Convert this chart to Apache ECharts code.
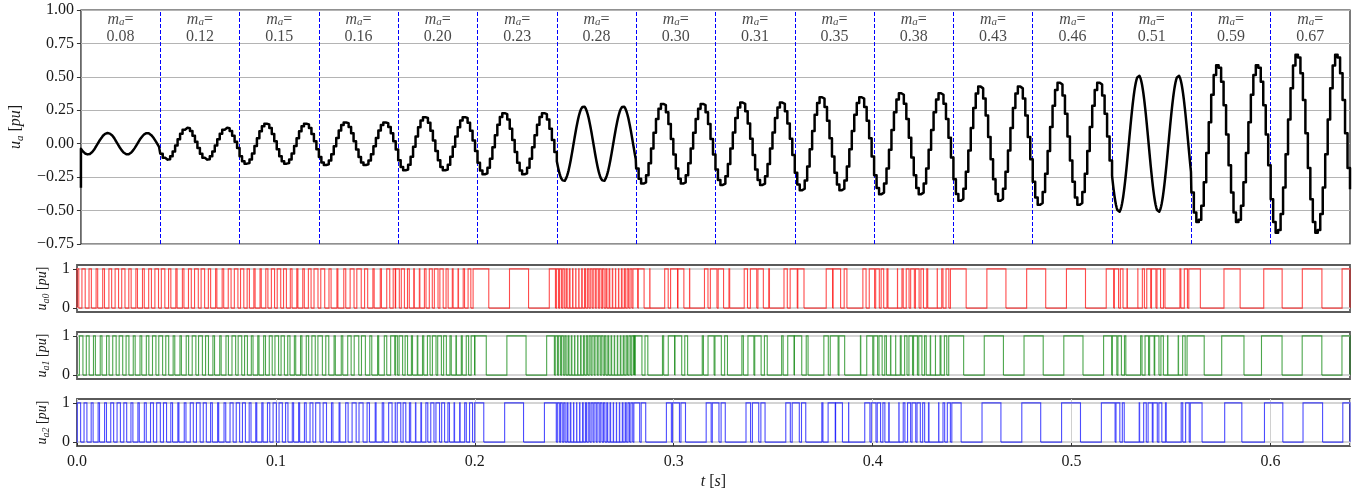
<!DOCTYPE html>
<html>
<head>
<meta charset="utf-8">
<script src="https://cdn.jsdelivr.net/npm/echarts@6/dist/echarts.min.js"></script>
<style>
  html, body { margin: 0; padding: 0; background: #fff; }
  #chart { width: 1362px; height: 493px; }
</style>
</head>
<body>
<div id="chart"></div>
<script>
// ---- data -----------------------------------------------------------------
// modulation index of each 40 ms block (labels drawn above the waveform)
const maLabels = ['0.08', '0.12', '0.15', '0.16', '0.20', '0.23', '0.28', '0.30',
                  '0.31', '0.35', '0.38', '0.43', '0.46', '0.51', '0.59', '0.67'];
const maValues = [0.08, 0.12, 0.15, 0.16, 0.20, 0.23, 0.28, 0.30,
                  0.31, 0.35, 0.38, 0.43, 0.46, 0.51, 0.59, 0.67];
// start time of each block [s]
const blockStart = [0.00, 0.04, 0.08, 0.12, 0.16, 0.20, 0.24, 0.28,
                    0.32, 0.36, 0.40, 0.44, 0.48, 0.52, 0.56, 0.60];
const blockLength = 0.04;
const tEnd = 0.64;
// held samples per fundamental cycle in each block
const stepsPerCycle = [200, 16, 16, 16, 16, 16, 200, 16, 16, 16, 16, 16, 16, 200, 16, 16];
// switching (carrier) frequency of the cells in each block [Hz]
const switchingHz = [300, 300, 325, 275, 360, 150, 650, 250, 250, 225, 400, 150, 150, 375, 100, 50];
// swing of the cell reference in each block
const refSwing = [0.15, 0.2, 0.2, 0.25, 0.3, 0.9, 0.3, 0.6, 0.5, 0.6, 0.4, 0.9, 0.9, 0.5, 1.5, 5.0];
// per-cell carrier phase shift and reference bias
const cellShift = [0.0, 0.37, 0.71];
const cellBias = [0.38, 0.40, 0.36];
// samples at the very first and very last instant
const edgeValues = [-0.33, -0.34];
// fundamental frequency, upward zero crossing and cell reference lag
const fundamentalHz = 50;
const zeroCross = 0.0085;
const cellLag = 0.0025;

// ---- traces ---------------------------------------------------------------
const W = 2 * Math.PI * fundamentalHz;

// held (zero-order) output: each sample is kept until the next one
function outputTrace() {
  const pts = [[0, edgeValues[0]]];
  let last = edgeValues[0];
  blockStart.forEach((t0, b) => {
    const Ts = 1 / (fundamentalHz * stepsPerCycle[b]);
    const n = Math.round(blockLength / Ts);
    for (let k = 0; k < n; k++) {
      const t = t0 + k * Ts;
      const v = maValues[b] * Math.sin(W * (t + Ts / 2 - zeroCross));
      pts.push([t, last], [t, v]);
      last = v;
    }
  });
  pts.push([tEnd, last], [tEnd, edgeValues[1]]);
  return pts;
}

// on-pulses of one cell: [end of previous pulse, rising edge, falling edge]
function cellPulses(cell) {
  const dt = 2e-5;
  const n = Math.round(tEnd / dt);
  const pulses = [];
  let prev = 0, rise = null, lastFall = 0;
  for (let i = 0; i <= n; i++) {
    const t = i * dt;
    const b = Math.min(Math.floor(t / blockLength + 1e-9), blockStart.length - 1);
    const ph = (t * switchingHz[b] + cellShift[cell]) % 1;
    const carrier = ph < 0.5 ? 2 * ph : 2 - 2 * ph;
    const ref = cellBias[cell] - refSwing[b] * Math.cos(W * (t - zeroCross - cellLag));
    const s = ref > carrier ? 1 : 0;
    if (s === 1 && prev === 0) rise = t;
    if (s === 0 && prev === 1) { pulses.push([lastFall, rise, t]); lastFall = t; }
    prev = s;
  }
  if (prev === 1) pulses.push([lastFall, rise, tEnd]);
  else pulses.push([lastFall, tEnd, tEnd]);
  return pulses;
}

// ---- chart ----------------------------------------------------------------
const FONT = 'Liberation Serif';
const INK = '#1a1a1a';

function yName(sub, size) {
  return {
    text: '{i|u}{s|' + sub + '}{r| [}{i|pu}{r|]}',
    rich: {
      i: { fontFamily: FONT, fontStyle: 'italic', fontSize: size, color: INK, lineHeight: size + 4, verticalAlign: 'middle' },
      s: { fontFamily: FONT, fontStyle: 'italic', fontSize: Math.round(size * 0.7), color: INK, lineHeight: size + 4, verticalAlign: 'bottom' },
      r: { fontFamily: FONT, fontSize: size, color: INK, lineHeight: size + 4, verticalAlign: 'middle' }
    }
  };
}

const gridsPx = [
  { top: 10, height: 234 },
  { top: 265, height: 47 },
  { top: 332, height: 47 },
  { top: 399, height: 47 }
];

const grids = gridsPx.map((g, i) => ({
  left: 77, right: 12, top: g.top, height: g.height,
  show: true, borderColor: i === 0 ? '#222' : '#5a5a5a', borderWidth: i === 0 ? 1.2 : 1.8
}));

const xAxes = gridsPx.map((g, i) => ({
  type: 'value', gridIndex: i, min: 0, max: tEnd, interval: 0.1,
  axisLine: { show: false },
  axisTick: { show: i === 3, length: 4, lineStyle: { color: '#333' } },
  axisLabel: {
    show: i === 3, fontFamily: FONT, fontSize: 16, color: INK, margin: 8,
    showMaxLabel: false, formatter: v => v.toFixed(1)
  },
  splitLine: { show: i === 3, lineStyle: { color: '#d0d0d0', width: 1 } },
  name: i === 3 ? '{i|t}{r| [}{i|s}{r|]}' : '',
  nameLocation: 'middle', nameGap: 28,
  nameTextStyle: {
    rich: {
      i: { fontFamily: FONT, fontStyle: 'italic', fontSize: 16, color: INK },
      r: { fontFamily: FONT, fontSize: 16, color: INK }
    }
  }
}));

const topName = yName('a', 16);
const yAxes = [{
  type: 'value', gridIndex: 0, min: -0.75, max: 1.0, interval: 0.25,
  axisLine: { show: false },
  axisTick: { show: true, length: 4, lineStyle: { color: '#333' } },
  axisLabel: {
    fontFamily: FONT, fontSize: 16, color: INK, margin: 7,
    formatter: v => (v < 0 ? '\u2212' : '') + Math.abs(v).toFixed(2)
  },
  splitLine: { show: true, lineStyle: { color: '#b4b4b4', width: 1.2 } },
  name: topName.text, nameLocation: 'middle', nameRotate: 90, nameGap: 52,
  nameTextStyle: { rich: topName.rich }
}];
['a0', 'a1', 'a2'].forEach((sub, k) => {
  const nm = yName(sub, 14);
  yAxes.push({
    type: 'value', gridIndex: k + 1, min: -0.1, max: 1.1,
    axisLine: { show: false },
    axisTick: { show: true, length: 4, customValues: [0, 1], lineStyle: { color: '#333' } },
    axisLabel: { fontFamily: FONT, fontSize: 16, color: INK, margin: 7, customValues: [0, 1] },
    splitLine: { show: false },
    name: nm.text, nameLocation: 'middle', nameRotate: 90, nameGap: 15,
    nameTextStyle: { rich: nm.rich }
  });
});

const cellColors = ['#ff0000', '#008000', '#0000ff'];
const series = [];

// block boundaries (dashed blue) behind the waveform
series.push({
  type: 'line', xAxisIndex: 0, yAxisIndex: 0, z: 1, silent: true,
  data: [[0, 0]], symbol: 'none', lineStyle: { width: 0 },
  markLine: {
    z: 1, silent: true, symbol: 'none', animation: false,
    label: { show: false },
    lineStyle: { color: '#0000ff', width: 1, type: [4, 2], opacity: 1 },
    data: blockStart.slice(1).map(t => ({ xAxis: t }))
  }
});

// output voltage
series.push({
  type: 'line', xAxisIndex: 0, yAxisIndex: 0, z: 3,
  data: outputTrace(), symbol: 'none', sampling: null,
  lineStyle: { color: '#000', width: 2.5, join: 'round' }
});

// m_a labels at the centre of each block
series.push({
  type: 'scatter', xAxisIndex: 0, yAxisIndex: 0, z: 4, silent: true,
  symbolSize: 0,
  data: maLabels.map((s, i) => ({ value: [blockStart[i] + blockLength / 2, 0.865], name: s })),
  label: {
    show: true, position: 'inside',
    formatter: p => '{m|m}{s|a}{e|=}\n{n|' + p.name + '}',
    rich: {
      m: { fontFamily: FONT, fontStyle: 'italic', fontSize: 16, color: INK, lineHeight: 17, verticalAlign: 'middle' },
      s: { fontFamily: FONT, fontStyle: 'italic', fontSize: 11, color: INK, lineHeight: 17, verticalAlign: 'bottom' },
      e: { fontFamily: FONT, fontSize: 16, color: INK, lineHeight: 17, verticalAlign: 'middle' },
      n: { fontFamily: FONT, fontSize: 16, color: INK, lineHeight: 17, align: 'center' }
    }
  }
});

[0, 1, 2].forEach(k => {
  // 0 / 1 reference lines of each switching panel
  series.push({
    type: 'line', xAxisIndex: k + 1, yAxisIndex: k + 1, z: 1, silent: true,
    data: [[0, 0]], symbol: 'none', lineStyle: { width: 0 },
    markLine: {
      z: 1, silent: true, symbol: 'none', animation: false, label: { show: false },
      lineStyle: { color: '#d4d4d4', width: 2, type: 'solid' },
      data: [{ yAxis: 0 }, { yAxis: 1 }]
    }
  });
  // switching state of the cell: each pulse drawn as its own rectangle outline
  series.push({
    type: 'custom', xAxisIndex: k + 1, yAxisIndex: k + 1, z: 3, silent: true,
    coordinateSystem: 'cartesian2d',
    data: cellPulses(k),
    encode: { x: [0, 1, 2], y: [] },
    renderItem: (params, api) => {
      const p0 = api.coord([api.value(0), 0]);
      const p1 = api.coord([api.value(1), 0]);
      const p1h = api.coord([api.value(1), 1]);
      const p2h = api.coord([api.value(2), 1]);
      const p2 = api.coord([api.value(2), 0]);
      return {
        type: 'polyline',
        shape: { points: [p0, p1, p1h, p2h, p2] },
        style: { stroke: cellColors[k], lineWidth: 1.1, fill: null, opacity: 0.7 }
      };
    }
  });
});

const chart = echarts.init(document.getElementById('chart'), null, { renderer: 'canvas' });
chart.setOption({
  animation: false,
  backgroundColor: '#fff',
  grid: grids,
  xAxis: xAxes,
  yAxis: yAxes,
  series: series
});
</script>
</body>
</html>
